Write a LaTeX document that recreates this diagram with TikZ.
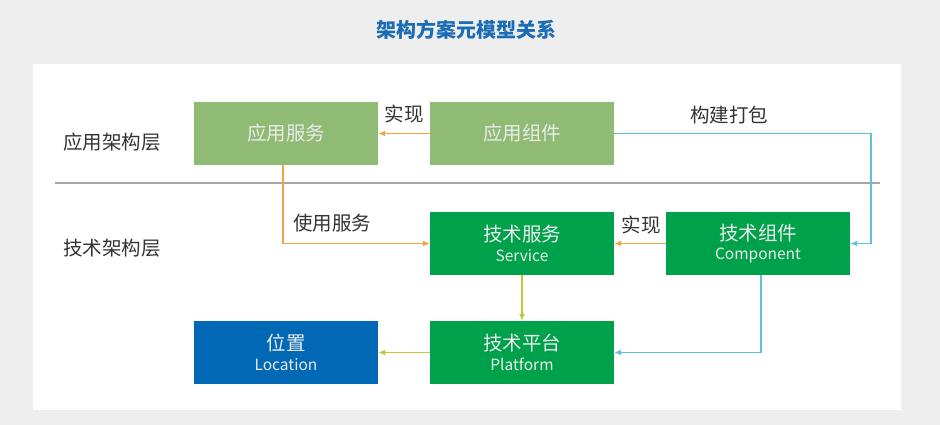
\documentclass[tikz,border=0pt]{standalone}
\usepackage{fontspec}
\setmainfont{Noto Sans CJK SC}
\usepackage{tikz}
\usetikzlibrary{arrows.meta,positioning}
\usepackage{xcolor}
\definecolor{pagegray}{RGB}{238, 238, 238}
\definecolor{titleblue}{RGB}{26, 108, 181}
\definecolor{appgreen}{RGB}{143, 187, 116}
\definecolor{techgreen}{RGB}{0, 161, 75}
\definecolor{locblue}{RGB}{0, 104, 181}
\definecolor{linkorange}{RGB}{242, 164, 67}
\definecolor{linkcyan}{RGB}{92, 196, 214}
\definecolor{linkolive}{RGB}{196, 198, 58}
\definecolor{labelgray}{RGB}{51, 51, 51}

\newcommand{\subname}[1]{{\fontsize{15.5}{17}\selectfont #1}}

\tikzset{
    box/.style={minimum width=184pt, minimum height=63pt, inner sep=0pt,
        text=white!92!black, align=center, font=\fontsize{19.5}{21}\selectfont},
    lbl/.style={text=labelgray, font=\fontsize{19.5}{21}\selectfont},
    link/.style={line width=1.2pt, -{Latex[length=7pt,width=6pt]}}
}

\begin{document}
\begin{tikzpicture}[x=1pt, y=-1pt]
    % Page and panel
    \fill[pagegray] (0,0) rectangle (940,425);
    \fill[white] (33,64) rectangle (901,410);
    \useasboundingbox (0,0) rectangle (940,425);

    % Title
    \node[titleblue, font=\fontsize{20}{22}\selectfont\bfseries] (title) at (466,30) {架构方案元模型关系};

    % Layers
    \draw[black!35, line width=1.2pt] (55,183) -- (880,183);
    \node[lbl] (applayer) at (112,142) {应用架构层};
    \node[lbl] (techlayer) at (112,248) {技术架构层};

    % Boxes
    \node[box, fill=appgreen] (appsvc) at (286,133.5) {应用服务};
    \node[box, fill=appgreen] (appcomp) at (522,133.5) {应用组件};
    \node[box, fill=techgreen] (techsvc) at (522,243.5) {技术服务\\[-1.5pt]\subname{Service}};
    \node[box, fill=techgreen] (techcomp) at (758,243.5) {技术组件\\[-1.5pt]\subname{Component}};
    \node[box, fill=locblue] (loc) at (286,352.5) {位置\\[-1.5pt]\subname{Location}};
    \node[box, fill=techgreen] (platform) at (522,352.5) {技术平台\\[-1.5pt]\subname{Platform}};

    % Realisation links
    \draw[link, linkorange] (appcomp.west) -- (appsvc.east);
    \node[lbl] (realize1) at (404,114) {实现};
    \draw[link, linkorange] (techcomp.west) -- (techsvc.east);
    \node[lbl] (realize2) at (641,225) {实现};

    % Service usage
    \draw[link, linkorange] ([xshift=-3pt]appsvc.south) |- (techsvc.west);
    \node[lbl] (usesvc) at (332,223) {使用服务};

    % Build and package
    \coordinate (buildturn) at (871,133.5);
    \draw[link, linkcyan] (appcomp.east) -- (buildturn) |- (techcomp.east);
    \node[lbl] (build) at (729,115) {构建打包};

    % Platform links
    \draw[link, linkolive] (techsvc.south) -- (platform.north);
    \draw[link, linkolive] (platform.west) -- (loc.east);
    \draw[link, linkcyan] ([xshift=3pt]techcomp.south) |- (platform.east);
\end{tikzpicture}
\end{document}
